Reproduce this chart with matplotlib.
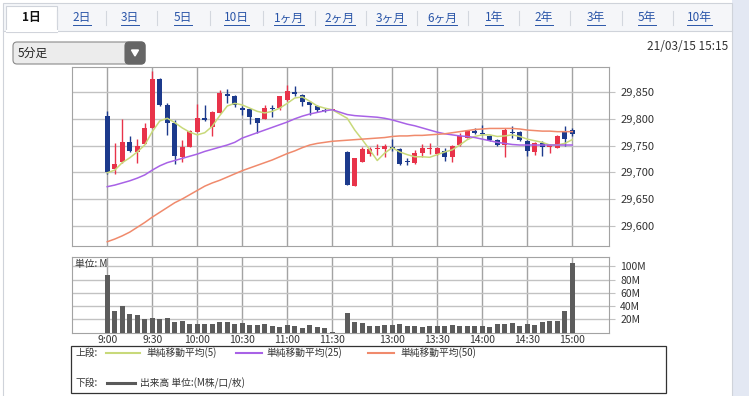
import numpy as np
import matplotlib
matplotlib.use("Agg")
import matplotlib.pyplot as plt
from matplotlib.patches import Rectangle, FancyBboxPatch, Polygon

plt.rcParams['font.family'] = ['Noto Sans CJK JP', 'DejaVu Sans']

W, H = 749, 396

# 5-minute bars, morning 9:00-11:30 and afternoon 12:30-15:00
times = ([f"{9 + m // 60}:{m % 60:02d}" for m in range(0, 151, 5)] +
         [f"{12 + m // 60}:{m % 60:02d}" for m in range(30, 181, 5)])

opens = [29806, 29706, 29720, 29756, 29737, 29753, 29782, 29874, 29826, 29792,
         29728, 29747, 29776, 29801, 29785, 29811, 29847, 29843, 29820, 29818,
         29801, 29799, 29820, 29820, 29836, 29851, 29845, 29832, 29824, 29817,
         29817,
         29738, 29675, 29720, 29734, 29743, 29743, 29748, 29744, 29722, 29718,
         29736, 29743, 29734, 29740, 29729, 29751, 29765, 29778, 29773, 29768,
         29761, 29751, 29776, 29775, 29759, 29738, 29754, 29748, 29746, 29776,
         29780]
highs = [29814, 29754, 29799, 29767, 29762, 29792, 29889, 29876, 29829, 29797,
         29761, 29779, 29827, 29825, 29814, 29854, 29856, 29845, 29824, 29819,
         29802, 29826, 29826, 29842, 29864, 29861, 29846, 29833, 29825, 29820,
         29818,
         29739, 29726, 29748, 29748, 29752, 29753, 29763, 29746, 29726, 29741,
         29752, 29754, 29748, 29745, 29751, 29773, 29779, 29783, 29789, 29770,
         29763, 29783, 29786, 29778, 29761, 29756, 29759, 29752, 29769, 29786,
         29783]
lows = [29697, 29697, 29718, 29737, 29717, 29753, 29782, 29824, 29770, 29716,
        29720, 29747, 29776, 29796, 29768, 29811, 29829, 29823, 29807, 29791,
        29773, 29799, 29804, 29816, 29834, 29842, 29824, 29808, 29812, 29813,
        29816,
        29677, 29674, 29720, 29731, 29732, 29729, 29740, 29714, 29713, 29716,
        29729, 29735, 29733, 29721, 29720, 29749, 29764, 29771, 29769, 29759,
        29749, 29729, 29764, 29759, 29731, 29733, 29731, 29736, 29745, 29750,
        29768]
closes = [29701, 29715, 29757, 29739, 29749, 29782, 29874, 29826, 29792, 29731,
          29747, 29777, 29802, 29797, 29812, 29849, 29843, 29826, 29816, 29803,
          29793, 29821, 29818, 29842, 29853, 29847, 29831, 29826, 29817, 29815,
          29817,
          29677, 29726, 29743, 29743, 29746, 29750, 29744, 29715, 29720, 29736,
          29746, 29746, 29745, 29729, 29749, 29767, 29778, 29774, 29771, 29761,
          29751, 29779, 29773, 29761, 29740, 29754, 29748, 29751, 29768, 29763,
          29771]

sma5 = [29699, 29704, 29718, 29727, 29738, 29751, 29776, 29796, 29801, 29793,
        29783, 29775, 29770, 29774, 29786, 29806, 29824, 29829, 29826, 29820,
        29814, 29811, 29814, 29820, 29829, 29839, 29841, 29833, 29824, 29820,
        29817,
        29801, 29779, 29761, 29742, 29722, 29736, 29746, 29738, 29733, 29729,
        29729, 29728, 29733, 29738, 29742, 29751, 29761, 29767, 29770, 29770,
        29767, 29768, 29770, 29767, 29762, 29759, 29756, 29751, 29751, 29754,
        29761]
sma25 = [29673, 29676, 29680, 29684, 29689, 29695, 29704, 29712, 29718, 29722,
         29726, 29730, 29734, 29739, 29743, 29747, 29751, 29756, 29764, 29769,
         29774, 29779, 29784, 29789, 29794, 29800, 29805, 29809, 29812, 29815,
         29817,
         29808, 29806, 29805, 29804, 29803, 29801, 29798, 29794, 29790, 29787,
         29783, 29779, 29775, 29772, 29770, 29768, 29767, 29765, 29762, 29759,
         29756, 29754, 29752, 29751, 29751, 29751, 29751, 29751, 29751, 29751,
         29751]
sma50 = [29570, 29575, 29581, 29588, 29597, 29606, 29616, 29625, 29634, 29643,
         29650, 29658, 29666, 29674, 29680, 29685, 29691, 29697, 29703, 29708,
         29713, 29718, 29723, 29729, 29735, 29740, 29746, 29751, 29754, 29756,
         29758,
         29760, 29761, 29762, 29763, 29764, 29765, 29767, 29768, 29768, 29769,
         29769, 29770, 29771, 29772, 29774, 29776, 29778, 29780, 29781, 29782,
         29782, 29782, 29782, 29781, 29779, 29778, 29777, 29777, 29776, 29776,
         29776]

volume = [87, 32, 39.5, 27.5, 26, 20.5, 22, 20, 22, 16,
          17, 13.5, 13.5, 13.5, 13.5, 15.5, 15.5, 13.5, 14.5, 12,
          12, 12.5, 9.5, 8.5, 11, 9.5, 7, 11, 8.5, 7,
          1.5,
          30, 16.3, 13.8, 9.8, 9.8, 11.3, 11.3, 12.8, 9.8, 9.8,
          8.3, 9.8, 9.8, 9.8, 11.3, 9.8, 9.8, 9.8, 9.8, 7.8,
          12.3, 12.3, 13.8, 9.8, 12.3, 11.3, 15.3, 17.3, 17.3, 32.3,
          105.6]

time_ticks = ['9:00', '9:30', '10:00', '10:30', '11:00', '11:30',
              '13:00', '13:30', '14:00', '14:30', '15:00']
price_ticks = [29600, 29650, 29700, 29750, 29800, 29850]
vol_ticks = [20, 40, 60, 80, 100]

tabs = ['1日', '2日', '3日', '5日', '10日', '1ヶ月', '2ヶ月', '3ヶ月', '6ヶ月',
        '1年', '2年', '3年', '5年', '10年']

RED = '#e8334a'
BLUE = '#1c3a8c'
GRID_V = '#a3a3a3'
GRID_H = '#c2c2c2'


def slot(t):
    h, m = map(int, t.split(':'))
    k = ((h - 9) * 60 + m) // 5
    return k - 10 if h >= 12 else k


def px_axes(l, t, r, b):
    return fig.add_axes([l / W, 1 - b / H, (r - l) / W, (b - t) / H])


fig = plt.figure(figsize=(W / 100, H / 100), dpi=100)

# page decoration in pixel coordinates
bg = fig.add_axes([0, 0, 1, 1])
bg.set_xlim(0, W)
bg.set_ylim(H, 0)
bg.axis('off')
bg.add_patch(Rectangle((732, 0), 17, H, color='#e3e8f3', lw=0))
bg.add_patch(Rectangle((3, 3), 729, 28, facecolor='#f5f6f9', edgecolor='#cfd3da', lw=0.8))
bg.add_patch(Rectangle((6, 6), 51, 26, facecolor='white', edgecolor='#cfd3da', lw=0.8))
bg.plot([6.5, 56.5], [31, 31], color='white', lw=1.5)
bg.plot([3, 3], [31, H], color='#cfd3da', lw=0.8)
bg.plot([732, 732], [31, H], color='#cfd3da', lw=0.8)

tab_x = [31, 82, 130, 183, 236, 289, 340, 391, 442, 494, 544, 596, 647, 699]
tab_texts = []
for i, (lab, tx) in enumerate(zip(tabs, tab_x)):
    sel = i == 0
    tab_texts.append(bg.text(tx, 18, lab, ha='center', va='center', fontsize=8.5,
                             color='#111111' if sel else '#2a55a8',
                             fontweight='bold' if sel else 'normal'))
    if i > 0:
        sx = (tab_x[i - 1] + tx) / 2
        bg.plot([sx, sx], [11, 25], color='#d3d7de', lw=0.8)

fig.canvas.draw()
inv = bg.transData.inverted()
for t in tab_texts[1:]:
    bb = t.get_window_extent()
    x0 = inv.transform((bb.x0, bb.y0))[0]
    x1 = inv.transform((bb.x1, bb.y0))[0]
    bg.plot([x0, x1], [25, 25], color='#2a55a8', lw=0.7)

bg.add_patch(FancyBboxPatch((13, 42), 132, 22, boxstyle='round,pad=0,rounding_size=4',
                            facecolor='#ececec', edgecolor='#8a8a8a', lw=0.8))
bg.add_patch(FancyBboxPatch((125, 42), 20, 22, boxstyle='round,pad=0,rounding_size=4',
                            facecolor='#666666', edgecolor='#666666', lw=0.8))
bg.add_patch(Polygon([(131.5, 50), (138.5, 50), (135, 56)], closed=True, color='white'))
bg.text(18, 53.5, '5分足', ha='left', va='center', fontsize=8.5, color='#222222')
bg.text(728, 46, '21/03/15 15:15', ha='right', va='center', fontsize=8.5, color='#333333')

# legend box
bg.add_patch(Rectangle((71, 346), 595, 47, fill=False, edgecolor='#333333', lw=0.9))
leg_fs = 7
bg.text(76, 353, '上段:', ha='left', va='center', fontsize=leg_fs, color='#333333')
bg.plot([106, 140], [353, 353], color='#c8d97a', lw=1.5)
bg.text(146, 353, '単純移動平均(5)', ha='left', va='center', fontsize=leg_fs, color='#333333')
bg.plot([236, 262], [353, 353], color='#a862e6', lw=1.5)
bg.text(266, 353, '単純移動平均(25)', ha='left', va='center', fontsize=leg_fs, color='#333333')
bg.plot([368, 394], [353, 353], color='#f08a6c', lw=1.5)
bg.text(400, 353, '単純移動平均(50)', ha='left', va='center', fontsize=leg_fs, color='#333333')
bg.text(76, 383, '下段:', ha='left', va='center', fontsize=leg_fs, color='#333333')
bg.plot([107, 135], [383, 383], color='#5a5a5a', lw=2.2)
bg.text(140, 383, '出来高 単位:(M株/口/枚)', ha='left', va='center', fontsize=leg_fs, color='#333333')

x = np.array([slot(t) for t in times])
o = np.array(opens, float)
c = np.array(closes, float)
col = np.where(c >= o, RED, BLUE)
xt = [slot(t) for t in time_ticks]
xlim = (-4.7, 66.9)

# price panel
ax = px_axes(72, 67, 609, 246)
ax.set_zorder(2)
ax.vlines(x, lows, highs, colors=col, lw=1.0, zorder=3)
ax.bar(x, np.maximum(np.abs(c - o), 1.5), bottom=np.minimum(o, c), width=0.66,
       color=col, zorder=4)
ax.plot(x, sma5, color='#c8d97a', lw=1.1, zorder=5)
ax.plot(x, sma25, color='#a862e6', lw=1.1, zorder=5)
ax.plot(x, sma50, color='#f08a6c', lw=1.1, zorder=5)
ax.set_xlim(*xlim)
ax.set_ylim(29562, 29897)
ax.set_xticks(xt)
ax.set_xticklabels([])
ax.set_yticks(price_ticks)
ax.set_yticklabels([f'{v:,}' for v in price_ticks])
ax.yaxis.tick_right()
ax.tick_params(axis='x', length=0)
ax.tick_params(axis='y', length=4, color=GRID_H, pad=4, labelsize=8, labelcolor='#333333')
ax.grid(True, axis='x', color=GRID_V, lw=1.0)
ax.grid(True, axis='y', color=GRID_H, lw=1.0)
ax.set_axisbelow(True)
for s in ax.spines.values():
    s.set_color(GRID_V)

# volume panel
vax = px_axes(72, 257, 609, 332.5)
vax.set_zorder(2)
vax.bar(x, volume, width=0.72, color='#5c5c5c', zorder=3)
vax.set_xlim(*xlim)
vax.set_ylim(0, 114)
vax.set_xticks(xt)
vax.set_xticklabels(time_ticks)
vax.set_yticks(vol_ticks)
vax.set_yticklabels([f'{v}M' for v in vol_ticks])
vax.yaxis.tick_right()
vax.tick_params(axis='x', length=0, pad=2, labelsize=7.5, labelcolor='#333333')
vax.tick_params(axis='y', length=4, color=GRID_H, pad=4, labelsize=7.5, labelcolor='#333333')
vax.grid(True, axis='x', color=GRID_V, lw=1.0)
vax.grid(True, axis='y', color=GRID_H, lw=1.0)
vax.set_axisbelow(True)
for s in vax.spines.values():
    s.set_color(GRID_V)
vax.text(0.005, 0.97, '単位: M', transform=vax.transAxes, ha='left', va='top',
         fontsize=7, color='#333333', zorder=5)

fig.savefig('out.png', dpi=100)
